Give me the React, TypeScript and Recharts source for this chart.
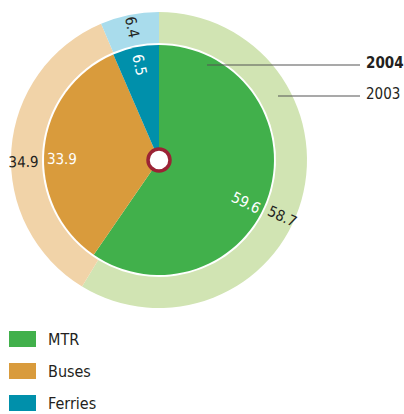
import { PieChart, Pie, Cell } from "recharts"

const categories = ["MTR", "Buses", "Ferries"]
const share2004 = [59.6, 33.9, 6.5]
const share2003 = [58.7, 34.9, 6.4]

const darkColors = ["#41b04b", "#d99b3c", "#0090ab"]
const lightColors = ["#d1e4b3", "#f1d3a8", "#a9dcec"]

// small per-slice angle shift so labels sit where the original has them
const labelNudge = [-9, 5, 0]

const FONT = "'DejaVu Sans Condensed', 'DejaVu Sans', sans-serif"
const RAD = Math.PI / 180
const CX = 159
const CY = 160

const data2004 = categories.map((name, i) => ({ name, value: share2004[i] }))
const data2003 = categories.map((name, i) => ({ name, value: share2003[i] }))

function makeLabel(color: string, where: "inner" | "outer") {
  return (props: any) => {
    const { cx, cy, midAngle, innerRadius, outerRadius, index, value } = props
    const angle = midAngle + labelNudge[index]
    const r = where === "inner" ? outerRadius - 18 : (innerRadius + outerRadius) / 2 + 3
    const x = cx + r * Math.cos(-angle * RAD)
    const y = cy + r * Math.sin(-angle * RAD)
    let rot = -angle
    while (rot > 90) rot -= 180
    while (rot < -90) rot += 180
    return (
      <text
        x={x}
        y={y}
        fill={color}
        fontSize={15}
        fontFamily={FONT}
        fontStretch="condensed"
        textAnchor="middle"
        dominantBaseline="central"
        transform={`rotate(${rot} ${x} ${y})`}
      >
        {value.toFixed(1)}
      </text>
    )
  }
}

function Overlay() {
  return (
    <svg width={404} height={414} style={{ position: "absolute", left: 0, top: 0, pointerEvents: "none" }}>
      <line x1={207} y1={65} x2={360} y2={65} stroke="#555" strokeWidth={1.2} />
      <line x1={278} y1={96} x2={360} y2={96} stroke="#555" strokeWidth={1.2} />
      <text x={366} y={68} fontSize={15} fontWeight="bold" fontFamily={FONT} fontStretch="condensed" fill="#231f20">2004</text>
      <text x={366} y={99} fontSize={15} fontFamily={FONT} fontStretch="condensed" fill="#231f20">2003</text>
      <circle cx={CX} cy={CY} r={11} fill="#fff" stroke="#9b2335" strokeWidth={3.5} />
    </svg>
  )
}

function LegendBox() {
  return (
    <div style={{ position: "absolute", left: 9, top: 323, fontFamily: FONT, fontStretch: "condensed", fontSize: 16, color: "#231f20" }}>
      {categories.map((c, i) => (
        <div key={c} style={{ display: "flex", alignItems: "center", height: 32 }}>
          <div style={{ width: 27, height: 16, background: darkColors[i], marginRight: 12 }} />
          <span>{c}</span>
        </div>
      ))}
    </div>
  )
}

export default function App() {
  return (
    <div style={{ position: "absolute", left: 0, top: 0, width: 404, height: 414 }}>
      <PieChart width={404} height={414} margin={{ top: 0, right: 0, bottom: 0, left: 0 }}>
        <Pie
          data={data2003}
          dataKey="value"
          cx={CX}
          cy={CY}
          innerRadius={117}
          outerRadius={148}
          startAngle={90}
          endAngle={-270}
          stroke="none"
          labelLine={false}
          label={makeLabel("#231f20", "outer")}
          isAnimationActive={false}
        >
          {data2003.map((d, i) => (
            <Cell key={d.name} fill={lightColors[i]} />
          ))}
        </Pie>
        <Pie
          data={data2004}
          dataKey="value"
          cx={CX}
          cy={CY}
          innerRadius={0}
          outerRadius={115}
          startAngle={90}
          endAngle={-270}
          stroke="none"
          labelLine={false}
          label={makeLabel("#ffffff", "inner")}
          isAnimationActive={false}
        >
          {data2004.map((d, i) => (
            <Cell key={d.name} fill={darkColors[i]} />
          ))}
        </Pie>
      </PieChart>
      <Overlay />
      <LegendBox />
    </div>
  )
}
